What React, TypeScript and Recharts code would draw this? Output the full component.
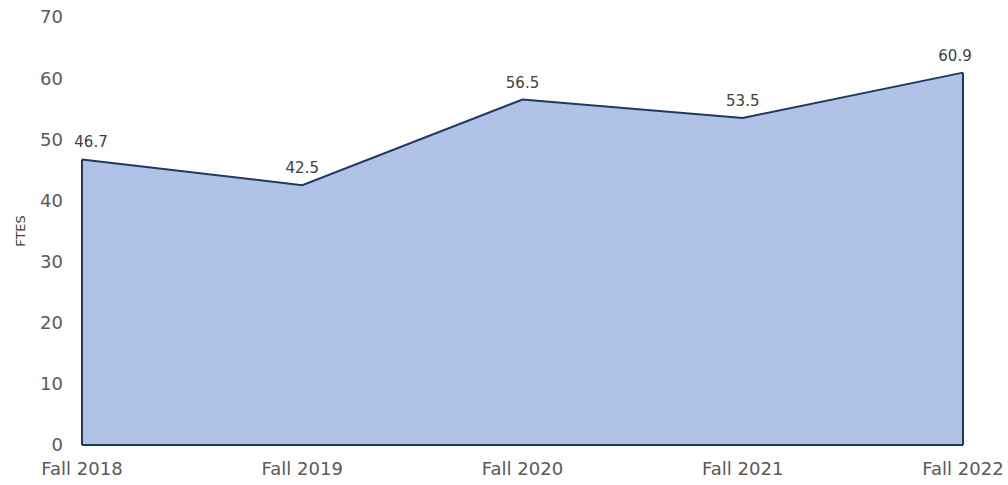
import React from "react";
import { AreaChart, Area, XAxis, YAxis, LabelList, ReferenceLine } from "recharts";

const categories = ["Fall 2018", "Fall 2019", "Fall 2020", "Fall 2021", "Fall 2022"];
const ftes = [46.7, 42.5, 56.5, 53.5, 60.9];
const yTicks = [0, 10, 20, 30, 40, 50, 60, 70];

const data = categories.map((c, i) => ({ name: c, value: ftes[i] }));

const FONT = "'DejaVu Sans', sans-serif";
const STROKE = "#1f3864";

const renderLabel = (props: any) => {
  const { x, y, value, index } = props;
  let dx = 0;
  if (index === 0) dx = 9;
  if (index === categories.length - 1) dx = -8;
  return (
    <text x={x + dx} y={y - 12} textAnchor="middle" fontSize={15} fill="#404040" fontFamily={FONT}>
      {value.toFixed(1)}
    </text>
  );
};

export default function App() {
  const last = categories.length - 1;
  return (
    <div style={{ position: "absolute", left: 0, top: 0, width: 1008, height: 485, background: "#fff" }}>
      <AreaChart width={1008} height={485} data={data} margin={{ top: 17, right: 45, bottom: 0, left: 0 }}>
        <XAxis
          dataKey="name"
          height={40}
          axisLine={false}
          tickLine={false}
          tickSize={0}
          tickMargin={17}
          interval={0}
          tick={{ fontSize: 18, fill: "#595959", fontFamily: FONT }}
        />
        <YAxis
          domain={[0, 70]}
          ticks={yTicks}
          width={82}
          axisLine={false}
          tickLine={false}
          tickSize={0}
          tickMargin={19}
          tick={{ fontSize: 18, fill: "#595959", fontFamily: FONT }}
          label={{ value: "FTES", angle: -90, position: "insideLeft", offset: 0, dx: 20, style: { fontSize: 13, fill: "#404040", fontFamily: FONT, textAnchor: "middle" } }}
        />
        <Area
          type="linear"
          dataKey="value"
          stroke={STROKE}
          strokeWidth={2}
          fill="#b0c3e6"
          fillOpacity={1}
          isAnimationActive={false}
        >
          <LabelList dataKey="value" content={renderLabel} />
        </Area>
        <ReferenceLine y={0} stroke={STROKE} strokeWidth={2} />
        <ReferenceLine
          segment={[{ x: categories[0], y: 0 }, { x: categories[0], y: ftes[0] }]}
          stroke={STROKE}
          strokeWidth={2}
        />
        <ReferenceLine
          segment={[{ x: categories[last], y: 0 }, { x: categories[last], y: ftes[last] }]}
          stroke={STROKE}
          strokeWidth={2}
        />
      </AreaChart>
    </div>
  );
}
